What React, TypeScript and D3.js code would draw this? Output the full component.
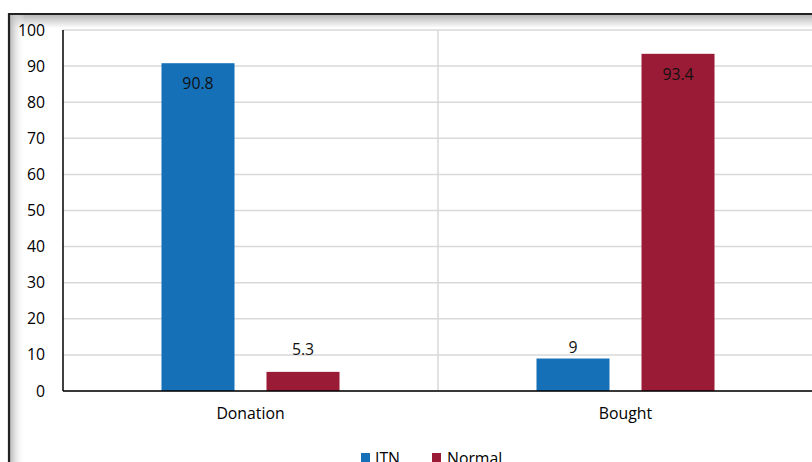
import React from "react";
import * as d3 from "d3";

const categories = ["Donation", "Bought"];
const seriesNames = ["ITN", "Normal"];
const itnValues = [90.8, 9];
const normalValues = [5.3, 93.4];
const yTicks = [0, 10, 20, 30, 40, 50, 60, 70, 80, 90, 100];

const colors: Record<string, string> = { ITN: "#1570B8", Normal: "#9A1B35" };
const FONT = "'Open Sans', 'Noto Sans', sans-serif";

// label placement styling (px)
const outsideLift: Record<string, number> = { "Donation-Normal": 17, "Bought-ITN": 6 };

export default function App() {
  const W = 812;
  const H = 462;
  const plotLeft = 63;
  const plotRight = 813;
  const plotTop = 30;
  const plotBottom = 391;

  const x0 = d3.scaleBand<string>().domain(categories).range([plotLeft, plotRight]).paddingInner(0).paddingOuter(0);
  const x1 = d3
    .scaleBand<string>()
    .domain(seriesNames)
    .range([0, x0.bandwidth()])
    .paddingInner(32 / 105)
    .paddingOuter(0.938);
  const y = d3.scaleLinear().domain([0, 100]).range([plotBottom, plotTop]);

  const rows = categories.map((c, i) => ({
    category: c,
    values: [
      { key: "ITN", value: itnValues[i] },
      { key: "Normal", value: normalValues[i] },
    ],
  }));

  const fs = 15.8;

  return (
    <svg
      width={W}
      height={H}
      style={{ position: "absolute", left: 0, top: 0, background: "#fff" }}
      fontFamily={FONT}
    >
      <defs>
        <linearGradient id="shTop" x1="0" y1="0" x2="0" y2="1">
          <stop offset="0" stopColor="#b8b8b8" />
          <stop offset="1" stopColor="#ffffff" />
        </linearGradient>
        <linearGradient id="shLeft" x1="0" y1="0" x2="1" y2="0">
          <stop offset="0" stopColor="#b8b8b8" />
          <stop offset="1" stopColor="#ffffff" stopOpacity="0" />
        </linearGradient>
      </defs>
      <rect x={0} y={0} width={W} height={H} fill="#fff" />
      {/* inner shadow */}
      <rect x={10} y={15} width={W - 10} height={13} fill="url(#shTop)" />
      <rect x={10} y={15} width={15} height={H - 15} fill="url(#shLeft)" />
      {/* frame */}
      <line x1={9} x2={W} y1={14} y2={14} stroke="#222" strokeWidth={2.2} />
      <line x1={9} x2={9} y1={13} y2={H} stroke="#222" strokeWidth={2.2} />

      {/* gridlines */}
      {yTicks.map((t) => (
        <line key={t} x1={plotLeft} x2={plotRight} y1={y(t)} y2={y(t)} stroke="#d9d9d9" strokeWidth={1.5} />
      ))}
      {categories.slice(1).map((c) => (
        <line key={c} x1={x0(c)!} x2={x0(c)!} y1={plotTop} y2={plotBottom} stroke="#d9d9d9" strokeWidth={1.5} />
      ))}

      {/* bars */}
      {rows.map((r) =>
        r.values.map((v) => {
          const bx = x0(r.category)! + x1(v.key)!;
          const by = y(v.value);
          return (
            <rect
              key={r.category + v.key}
              x={bx}
              y={by}
              width={x1.bandwidth()}
              height={plotBottom - by}
              fill={colors[v.key]}
            />
          );
        })
      )}

      {/* axes */}
      <line x1={plotLeft} x2={plotLeft} y1={plotTop} y2={plotBottom} stroke="#000" strokeWidth={1.5} />
      <line x1={plotLeft} x2={plotRight} y1={plotBottom} y2={plotBottom} stroke="#000" strokeWidth={1.5} />

      {/* y tick labels */}
      {yTicks.map((t) => (
        <text key={t} x={45} y={y(t) + 5.5} textAnchor="end" fontSize={fs} fill="#000">
          {t}
        </text>
      ))}

      {/* category labels */}
      {categories.map((c) => (
        <text key={c} x={x0(c)! + x0.bandwidth() / 2} y={419} textAnchor="middle" fontSize={fs} fill="#000">
          {c}
        </text>
      ))}

      {/* data labels */}
      {rows.map((r) =>
        r.values.map((v) => {
          const cx = x0(r.category)! + x1(v.key)! + x1.bandwidth() / 2;
          const inside = v.value > 50;
          const ly = inside ? y(v.value) + 26 : y(v.value) - (outsideLift[r.category + "-" + v.key] ?? 10);
          return (
            <text key={"l" + r.category + v.key} x={cx} y={ly} textAnchor="middle" fontSize={fs} fill="#111">
              {String(v.value)}
            </text>
          );
        })
      )}

      {/* legend */}
      <g>
        <rect x={361} y={453} width={9} height={9} fill={colors.ITN} />
        <text x={375} y={463.5} fontSize={fs} fill="#000">ITN</text>
        <rect x={432} y={453} width={9} height={9} fill={colors.Normal} />
        <text x={447} y={463.5} fontSize={fs} fill="#000">Normal</text>
      </g>
    </svg>
  );
}
